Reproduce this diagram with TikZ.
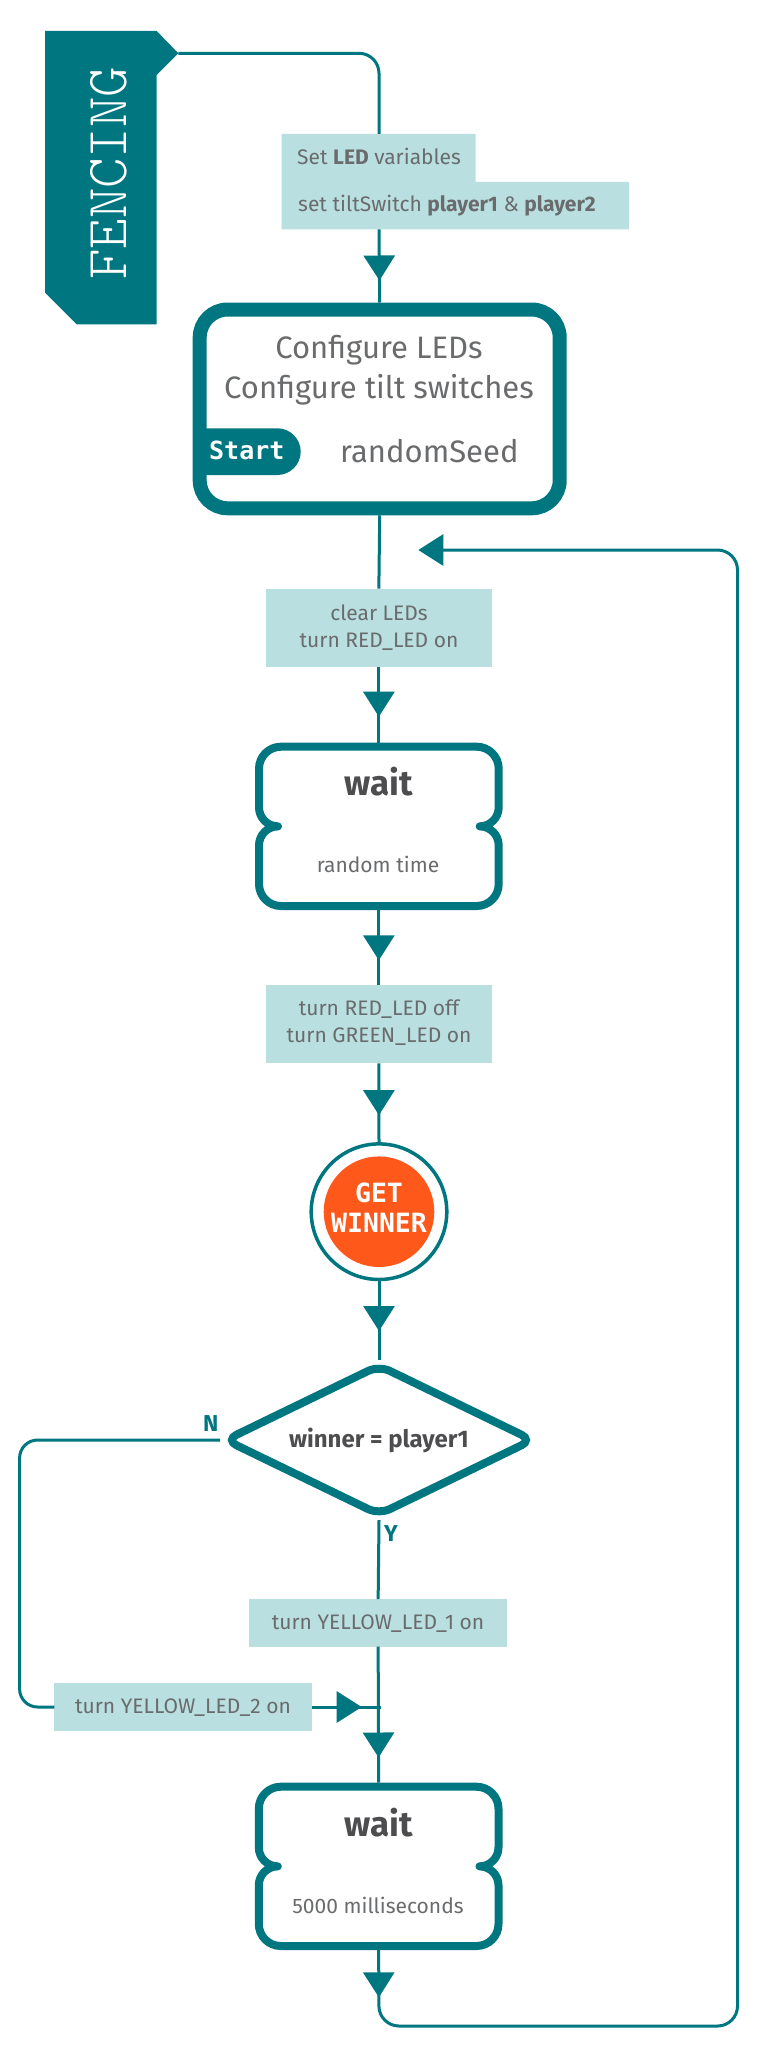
\documentclass[tikz,border=0pt]{standalone}
\usepackage{fontspec}
\setmainfont{Fira Sans}
\newfontfamily\monof{DejaVu Sans Mono}
\usetikzlibrary{arrows.meta,decorations.markings,shapes.geometric}
\definecolor{fteal}{RGB}{0,118,128}
\definecolor{fbox}{RGB}{185,223,224}
\definecolor{ftext}{RGB}{106,107,109}
\definecolor{fdark}{RGB}{77,77,79}
\definecolor{forange}{RGB}{255,88,27}
\tikzset{
  conn/.style={draw=fteal, color=fteal, line width=3pt},
  arrowat/.style={postaction={decorate}, decoration={markings, mark=at position #1 with {\arrow{Triangle[width=31pt,length=25pt]}}}},
  endarrow/.style={-{Triangle[width=31pt,length=25pt]}},
  cmd/.style={fill=fbox, draw=none, inner sep=0pt, outer sep=0pt},
  txt/.style={inner sep=0pt, anchor=base, text=ftext, font=\fontsize{21}{25}\selectfont},
  bigtxt/.style={txt, font=\fontsize{31}{31}\selectfont},
  waittitle/.style={inner sep=0pt, anchor=base, text=fdark, font=\bfseries\fontsize{35}{35}\selectfont},
  waitnode/.style={draw=none, inner sep=0pt, outer sep=0pt, minimum width=247.7pt, minimum height=167.3pt},
  waitline/.style={draw=fteal, line width=8pt, fill=white, line join=round},
  lab/.style={inner sep=0pt, anchor=base west, text=fteal, font=\bfseries\fontsize{23}{23}\selectfont},
  monowhite/.style={inner sep=0pt, anchor=base, text=white, font=\monof\bfseries\fontsize{26.5}{26.5}\selectfont},
}
% outline of a wait box: centre x, centre y, half width, half height (centre line)
\newcommand\waitoutline[4]{%
  \pgfmathsetmacro\wW{#1-#3}\pgfmathsetmacro\wE{#1+#3}%
  \pgfmathsetmacro\wN{#2-#4}\pgfmathsetmacro\wS{#2+#4}%
  \def\wC{#2}\def\rr{22}\def\kr{12.15}\def\nn{19}\def\kn{10.5}%
  \draw[waitline] (\wW,\wC+\nn) -- (\wW,\wS-\rr)
    .. controls (\wW,\wS-\rr+\kr) and (\wW+\rr-\kr,\wS) .. (\wW+\rr,\wS)
    -- (\wE-\rr,\wS)
    .. controls (\wE-\rr+\kr,\wS) and (\wE,\wS-\rr+\kr) .. (\wE,\wS-\rr)
    -- (\wE,\wC+\nn)
    .. controls (\wE,\wC+\nn-\kn) and (\wE-\nn+\kn,\wC) .. (\wE-\nn,\wC)
    .. controls (\wE-\nn+\kn,\wC) and (\wE,\wC-\nn+\kn) .. (\wE,\wC-\nn)
    -- (\wE,\wN+\rr)
    .. controls (\wE,\wN+\rr-\kr) and (\wE-\rr+\kr,\wN) .. (\wE-\rr,\wN)
    -- (\wW+\rr,\wN)
    .. controls (\wW+\rr-\kr,\wN) and (\wW,\wN+\rr-\kr) .. (\wW,\wN+\rr)
    -- (\wW,\wC-\nn)
    .. controls (\wW,\wC-\nn+\kn) and (\wW+\nn-\kn,\wC) .. (\wW+\nn,\wC)
    .. controls (\wW+\nn-\kn,\wC) and (\wW,\wC+\nn-\kn) .. (\wW,\wC+\nn)
    -- cycle;}
\begin{document}
\begin{tikzpicture}[x=1pt,y=-1pt]
\useasboundingbox[fill=white] (0,0) rectangle (760,2052);

% ---- banner
\fill[fteal] (45,31) -- (156.7,31) -- (178.3,53.3) -- (156.7,75) -- (156.7,324.3) -- (76.7,324.3) -- (45,292.7) -- cycle;
\coordinate (bport) at (178.3,53.3);
\node[rotate=90, text=white, inner sep=0pt, font=\fontfamily{lmtt}\fontseries{l}\fontsize{58}{58}\selectfont] (fencing) at (109.2,173.3) {FENCING};

% ---- set box
\fill[fbox] (281.6,134) -- (475.5,134) -- (475.5,182) -- (629,182) -- (629,229.3) -- (281.6,229.3) -- cycle;
\coordinate (setin) at (379,134);
\coordinate (setout) at (379,229.3);
\node[txt, anchor=base west] (setA) at (297,165) {Set \textbf{LED} variables};
\node[txt, anchor=base west] (setB) at (298,212) {set tiltSwitch \textbf{player1} \& \textbf{player2}};
\draw[conn, rounded corners=20pt] (bport) -| (setin);

% ---- start box
\node[draw=fteal, line width=14pt, rounded corners=28pt, fill=white, minimum width=360pt, minimum height=198.8pt, inner sep=0pt] (start) at (379.7,408.9) {};
\draw[conn, arrowat=-22pt] (setout) -- (start.north);
\node[bigtxt] (cfg1) at (379,358) {Configure LEDs};
\node[bigtxt] (cfg2) at (379,398) {Configure tilt switches};
\fill[fteal] (199.7,428.3) -- (277.35,428.3) arc[start angle=-90, end angle=90, radius=23.35] -- (199.7,475) -- cycle;
\node[monowhite, font=\monof\bfseries\fontsize{25}{25}\selectfont] (starttag) at (246.8,459.3) {Start};
\node[bigtxt, anchor=base west] (seed) at (340,462) {randomSeed};

% ---- clear box
\node[cmd, minimum width=226.3pt, minimum height=78pt] (clear) at (378.85,627.7) {};
\node[txt] (clear1) at (379,620) {clear LEDs};
\node[txt] (clear2) at (379,647) {turn RED\_LED on};
\draw[conn] (start.south) -- (clear.north);

% ---- wait 1
\node[waitnode] (wait1) at (378.85,826.35) {};
\waitoutline{378.85}{826.35}{119.85}{79.65}
\node[waittitle] (wait1t) at (379,795) {wait};
\node[txt] (wait1s) at (378,872) {random time};
\draw[conn, arrowat=-26pt] (clear.south) -- (wait1.north);

% ---- led off box
\node[cmd, minimum width=226.3pt, minimum height=78pt] (ledoff) at (378.85,1024.3) {};
\node[txt] (ledoff1) at (379,1015) {turn RED\_LED off};
\node[txt] (ledoff2) at (379,1042.7) {turn GREEN\_LED on};
\draw[conn, arrowat=-25pt] (wait1.south) -- (ledoff.north);

% ---- get winner
\node[circle, draw=fteal, line width=3.5pt, fill=white, minimum size=135.6pt, inner sep=0pt] (getw) at (379,1211.7) {};
\fill[forange] (379,1211.7) circle[radius=55.3pt];
\node[monowhite] (get1) at (379,1202.7) {GET};
\node[monowhite] (get2) at (379,1232.7) {WINNER};
\draw[conn, arrowat=-27pt] (ledoff.south) -- (getw.north);

% ---- decision
\node[diamond, aspect=2.04, draw=fteal, line width=8pt, fill=white, minimum width=310pt, minimum height=152pt, inner sep=0pt, rounded corners=12pt, text=fdark, font=\bfseries\fontsize{24}{24}\selectfont] (dec) at (379,1440) {winner = player1};
\draw[conn, arrowat=-29pt] (getw.south) -- (dec.north);
\node[lab] (nlab) at (203,1431.7) {N};
\node[lab] (ylab) at (384,1541.7) {Y};

% ---- yellow boxes
\node[cmd, minimum width=257.7pt, minimum height=47.7pt] (yl1) at (378.15,1622.85) {};
\node[txt] (yl1t) at (378,1629.3) {turn YELLOW\_LED\_1 on};
\node[cmd, minimum width=257.7pt, minimum height=47.4pt] (yl2) at (183.15,1707) {};
\node[txt] (yl2t) at (183,1713.3) {turn YELLOW\_LED\_2 on};
\draw[conn] (dec.south) -- (yl1.north);
\draw[conn, rounded corners=18pt] (dec.west) -- (19.6,1440) -- (19.6,1707) -- (yl2.west);
\coordinate (merge) at (380.5,1707);
\draw[conn, arrowat=-18.8pt] (yl2.east) -- (merge);

% ---- wait 2
\node[waitnode] (wait2) at (378.65,1866.35) {};
\waitoutline{378.65}{1866.35}{119.85}{79.65}
\node[waittitle] (wait2t) at (379,1836.7) {wait};
\node[txt] (wait2s) at (378,1913.3) {5000 milliseconds};
\draw[conn, arrowat=-25.2pt] (yl1.south) -- (wait2.north);

% ---- loop back
\coordinate (loopend) at (418.3,550);
\draw[conn, rounded corners=20pt, arrowat=47.3pt, endarrow] (wait2.south) -- (379,2026) -- (737.5,2026) -- (737.5,550) -- (loopend);
\end{tikzpicture}
\end{document}
